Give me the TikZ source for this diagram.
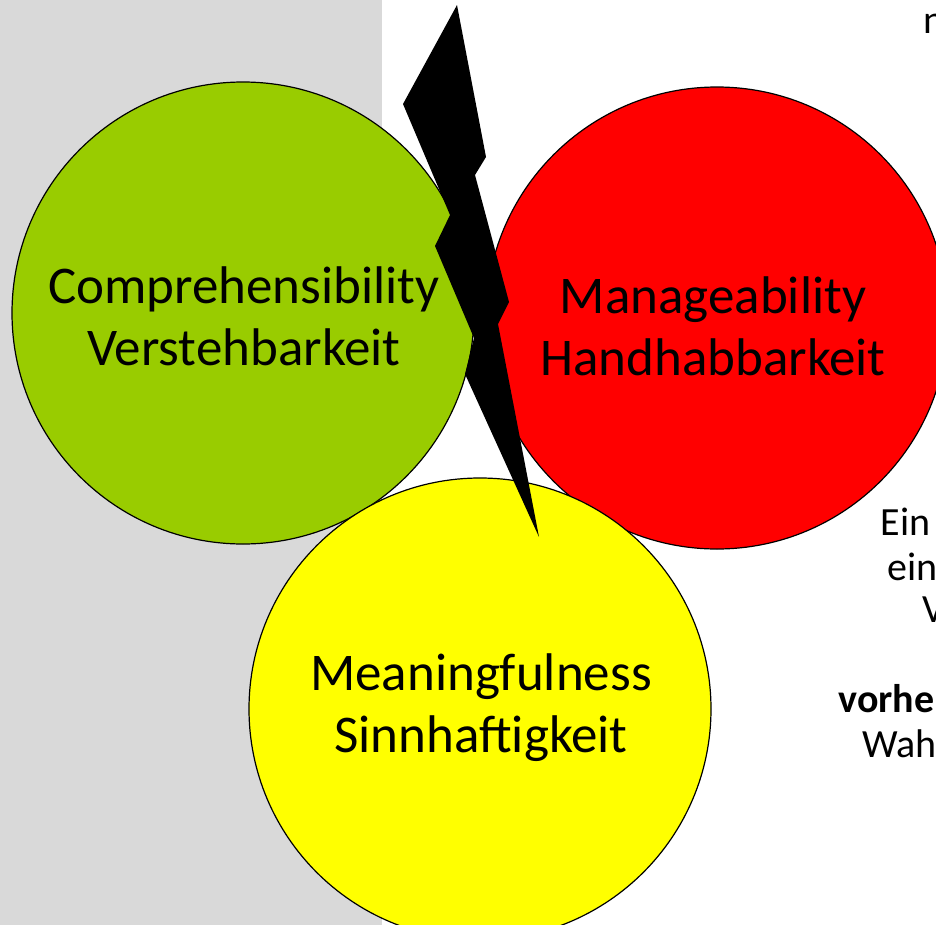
\documentclass[tikz,border=0pt]{standalone}
\usepackage{fontspec}
\setmainfont{Carlito}
\definecolor{sogreen}{HTML}{99CC00}
\definecolor{sored}{HTML}{FF0000}
\definecolor{soyellow}{HTML}{FFFF00}
\definecolor{sogrey}{HTML}{D9D9D9}
\tikzset{
  socircle/.style={circle, draw=black, line width=1.2bp, minimum size=462bp, inner sep=0pt},
  solabel/.style={anchor=base, align=center, font=\fontsize{53bp}{62bp}\selectfont},
  soside/.style={anchor=base west, align=left, font=\fontsize{40bp}{45bp}\selectfont}
}
\begin{document}
\begin{tikzpicture}[x=1bp, y=-1bp]
	\useasboundingbox (0,0) rectangle (936,925);
	% Background
	\fill[sogrey] (0,0) rectangle (382,925);
	% Circles
	\node[socircle, fill=sogreen] (compr) at (243,313) {};
	\node[socircle, fill=sored] (manage) at (717,318) {};
	\node[socircle, fill=soyellow] (meaning) at (480,709) {};
	% Labels
	\node[solabel] (comprtext) at (244,365) {Comprehensibility\\Verstehbarkeit};
	\node[solabel] (managetext) at (713,375) {Manageability\\Handhabbarkeit};
	\node[solabel] (meaningtext) at (481,752) {Meaningfulness\\Sinnhaftigkeit};
	% Lightning
	\fill[black] (457,5) -- (486,157) -- (475,175) -- (509,302) -- (498,324)
		-- (539,537) -- (465,374) -- (474,338) -- (435,246) -- (450,215)
		-- (403,104) -- cycle;
	% Side text
	\node[soside] (topn) at (920,33) {n};
	\node[soside] (eina) at (877,535) {Ein};
	\node[soside] (einb) at (884,580) {ein};
	\node[soside] (vline) at (919,622) {V};
	\node[soside, font=\fontsize{40bp}{45bp}\selectfont\bfseries] (vorhe) at (835,712) {vorhe};
	\node[soside] (wah) at (859,757) {Wah};
\end{tikzpicture}
\end{document}
